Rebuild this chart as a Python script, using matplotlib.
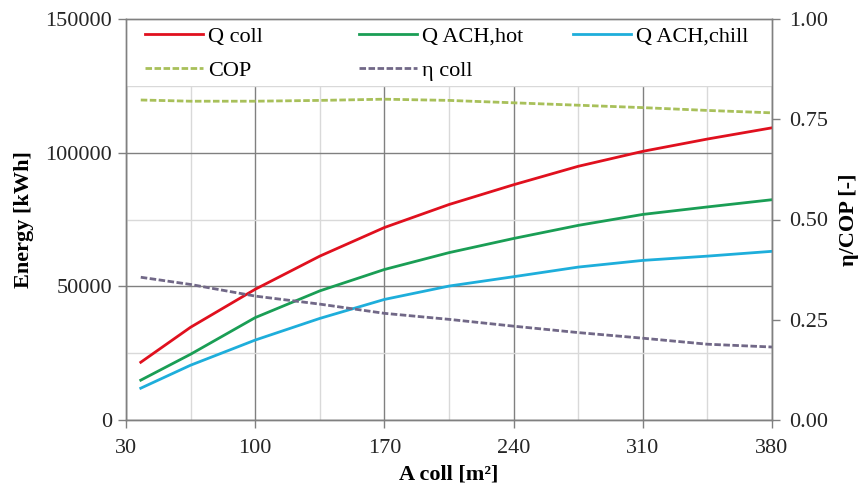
import matplotlib
matplotlib.use("Agg")
import matplotlib.pyplot as plt
from matplotlib.patches import Rectangle
from matplotlib.ticker import FuncFormatter, FixedLocator

plt.rcParams['font.family'] = ['Liberation Serif', 'DejaVu Serif']
plt.rcParams['lines.scale_dashes'] = False

# data
a_coll = [38, 65, 100, 135, 170, 205, 240, 275, 310, 345, 380]
q_coll = [21600, 34700, 48900, 61300, 72000, 80600, 88000, 94900, 100500, 105100, 109300]
q_ach_hot = [14900, 24600, 38300, 48300, 56300, 62600, 67900, 72800, 76900, 79700, 82400]
q_ach_chill = [11900, 20500, 29900, 38000, 45100, 50100, 53600, 57200, 59700, 61300, 63100]
cop = [0.798, 0.795, 0.795, 0.797, 0.800, 0.797, 0.791, 0.785, 0.779, 0.772, 0.766]
eta_coll = [0.356, 0.338, 0.309, 0.289, 0.266, 0.251, 0.234, 0.218, 0.204, 0.189, 0.182]

x_ticks = [30, 100, 170, 240, 310, 380]
x_minor = [65, 135, 205, 275, 345]
y_ticks = [0, 50000, 100000, 150000]
y_minor = [25000, 75000, 125000]
y2_ticks = [0.0, 0.25, 0.5, 0.75, 1.0]

c_red = '#E0101E'
c_green = '#1A9E55'
c_blue = '#1EAEDB'
c_cop = '#A8C05A'
c_eta = '#716887'

fig = plt.figure(figsize=(8.65, 4.95), dpi=100)
ax = fig.add_axes([126/865, 1-420/495, (772-126)/865, (420-19)/495])
ax2 = ax.twinx()

ax.set_xlim(30, 380)
ax.set_ylim(0, 150000)
ax2.set_ylim(0, 1.0)

ax.set_xticks(x_ticks)
ax.set_yticks(y_ticks)
ax2.set_yticks(y2_ticks)
ax.xaxis.set_minor_locator(FixedLocator(x_minor))
ax.yaxis.set_minor_locator(FixedLocator(y_minor))
ax.yaxis.set_major_formatter(FuncFormatter(lambda v, p: f"{int(v)}"))
ax2.yaxis.set_major_formatter(FuncFormatter(lambda v, p: f"{v:.2f}"))

ax.set_axisbelow(True)
ax.grid(which='major', color='#808080', lw=1.0)
ax.grid(which='minor', color='#d9d9d9', lw=1.0)
ax.tick_params(which='minor', length=0)
for a in (ax, ax2):
    a.tick_params(which='major', direction='out', length=6, width=1, color='#808080',
                  labelsize=16, labelcolor='#262626')
    for s in a.spines.values():
        s.set_color('#808080')
        s.set_linewidth(1.0)
ax.tick_params(axis='y', pad=4)
ax.tick_params(axis='x', pad=8)
ax2.tick_params(axis='y', pad=6)

# white area behind legend
ax.add_patch(Rectangle((0, 125000/150000), 1, 25000/150000, transform=ax.transAxes,
                       facecolor='white', edgecolor='none', zorder=1))

lw = 2.0
l1, = ax.plot(a_coll, q_coll, color=c_red, lw=lw, zorder=3, label='Q coll')
l2, = ax.plot(a_coll, q_ach_hot, color=c_green, lw=lw, zorder=3, label='Q ACH,hot')
l3, = ax.plot(a_coll, q_ach_chill, color=c_blue, lw=lw, zorder=3, label='Q ACH,chill')
l4, = ax2.plot(a_coll, cop, color=c_cop, lw=lw, ls=(0, (4.7, 1.8)), label='COP')
l5, = ax2.plot(a_coll, eta_coll, color=c_eta, lw=lw, ls=(0, (4.7, 1.8)), label='η coll')

ax.set_xlabel('A coll [m²]', fontsize=16, fontweight='bold', labelpad=4)
ax.set_ylabel('Energy [kWh]', fontsize=16, fontweight='bold', labelpad=8)
ax2.set_ylabel('η/COP [-]', fontsize=16, fontweight='bold', labelpad=8)

leg_kw = dict(frameon=False, fontsize=16, handlelength=2.6, handletextpad=0.25,
              labelspacing=0.62, borderaxespad=0, borderpad=0, loc='upper left')
positions = [(145, 26), (359, 26), (573, 26)]
groups = [[l1, l4], [l2, l5], [l3]]
legs = []
for (px, py), hs in zip(positions, groups):
    lg = ax2.legend(handles=hs, labels=[h.get_label() for h in hs],
                    bbox_to_anchor=((px-126)/646, 1-(py-19)/401), **leg_kw)
    legs.append(lg)
for lg in legs[:-1]:
    ax2.add_artist(lg)

fig.savefig('out.png', dpi=100)
